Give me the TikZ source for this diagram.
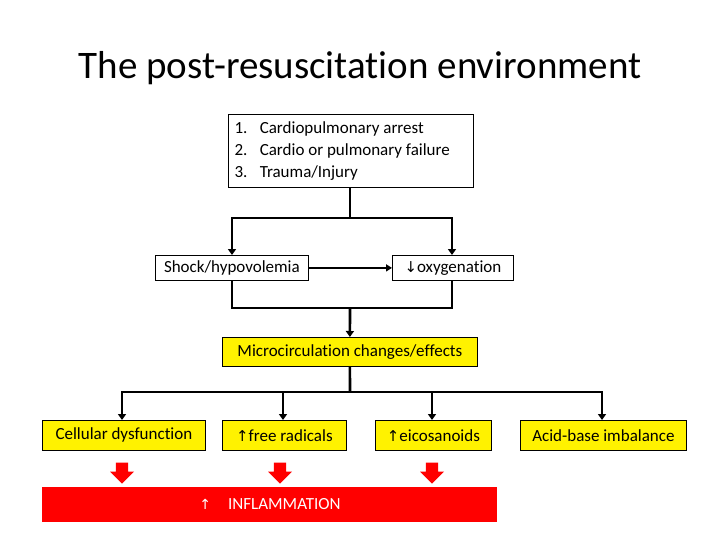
\documentclass[tikz,border=0pt]{standalone}
\usepackage{fontspec}
\setmainfont{Carlito}[Ligatures=NoCommon]
\newfontfamily\sym{DejaVu Sans}
\usetikzlibrary{arrows.meta,shapes.arrows}
\begin{document}
\begin{tikzpicture}[x=1pt,y=-1pt,
  box/.style={draw,line width=0.8pt,inner sep=0pt,anchor=north west},
  ybox/.style={box,fill=yellow},
  tx/.style={font=\fontsize{17}{20}\selectfont},
  ln/.style={line width=2.6pt},
  ar/.style={line width=2.6pt,-{Triangle[length=6pt,width=8pt]}},
  barrow/.style={single arrow,shape border rotate=270,fill=red,draw=none,minimum height=21pt,minimum width=24pt,single arrow head extend=4pt,inner sep=4pt}]
\useasboundingbox (0,0) rectangle (720,540);
\node (title) at (360,68) {\fontsize{39}{44}\selectfont The post-resuscitation environment};
\node[box,minimum width=245pt,minimum height=73pt] (top) at (228,114) {};
\node[anchor=west,align=left,font=\fontsize{17}{22}\selectfont] (toptext) at (231,151) {1.\enspace\ Cardiopulmonary arrest\\2.\enspace\ Cardio or pulmonary failure\\3.\enspace\ Trauma/Injury};
\node[box,minimum width=153pt,minimum height=25pt] (shock) at (155,255) {};
\node[tx] at (shock.center) {Shock/hypovolemia};
\node[box,minimum width=121pt,minimum height=25pt] (oxy) at (392,255) {};
\node[tx] at (oxy.center) {{\sym\fontsize{15}{18}\selectfont ↓}oxygenation};
\node[ybox,minimum width=255pt,minimum height=29pt] (micro) at (222,337) {};
\node[tx] at (micro.center) {Microcirculation changes/effects};
\node[ybox,minimum width=163pt,minimum height=30pt] (cell) at (42,420) {};
\node[tx] at (cell.center) {Cellular dysfunction};
\node[ybox,minimum width=124pt,minimum height=30pt] (free) at (222,420) {};
\node[tx] at (free.center) {{\sym\fontsize{15}{18}\selectfont ↑}free radicals};
\node[ybox,minimum width=116pt,minimum height=30pt] (eico) at (375,420) {};
\node[tx] at (eico.center) {{\sym\fontsize{15}{18}\selectfont ↑}eicosanoids};
\node[ybox,minimum width=166pt,minimum height=30pt] (acid) at (520,420) {};
\node[tx] at (acid.center) {Acid-base imbalance};
\node[fill=red,anchor=north west,minimum width=455pt,minimum height=35pt,inner sep=0pt] (infl) at (42,487) {};
\node[text=white,font=\fontsize{17}{20}\selectfont] at (270,504) {{\sym\fontsize{14}{18}\selectfont ↑}\quad INFLAMMATION};
\node[barrow] (b1) at (122,470) {};
\node[barrow] (b2) at (280,470) {};
\node[barrow] (b3) at (432,470) {};
% connectors
\coordinate (j1) at (350,218);
\draw[ln] (top.south -| j1) -- (j1);
\draw[ar] (j1) -| (232,255);
\draw[ar] (j1) -| (452,255);
\draw[line width=1.6pt,-{Triangle[length=6pt,width=7pt]}] (shock.east) -- (oxy.west);
\coordinate (j2) at (350,308);
\draw[ln] (232,280) |- (j2) -| (452,280);
\draw[ar] (j2) -- (micro.north);
\coordinate (j3) at (350,392);
\draw[ln] (micro.south) -- (j3);
\draw[ar] (j3) -| (122,420);
\draw[ar] (j3) -| (602,420);
\draw[ar] (283,392) -- (283,420);
\draw[ar] (432,392) -- (432,420);
\end{tikzpicture}
\end{document}
